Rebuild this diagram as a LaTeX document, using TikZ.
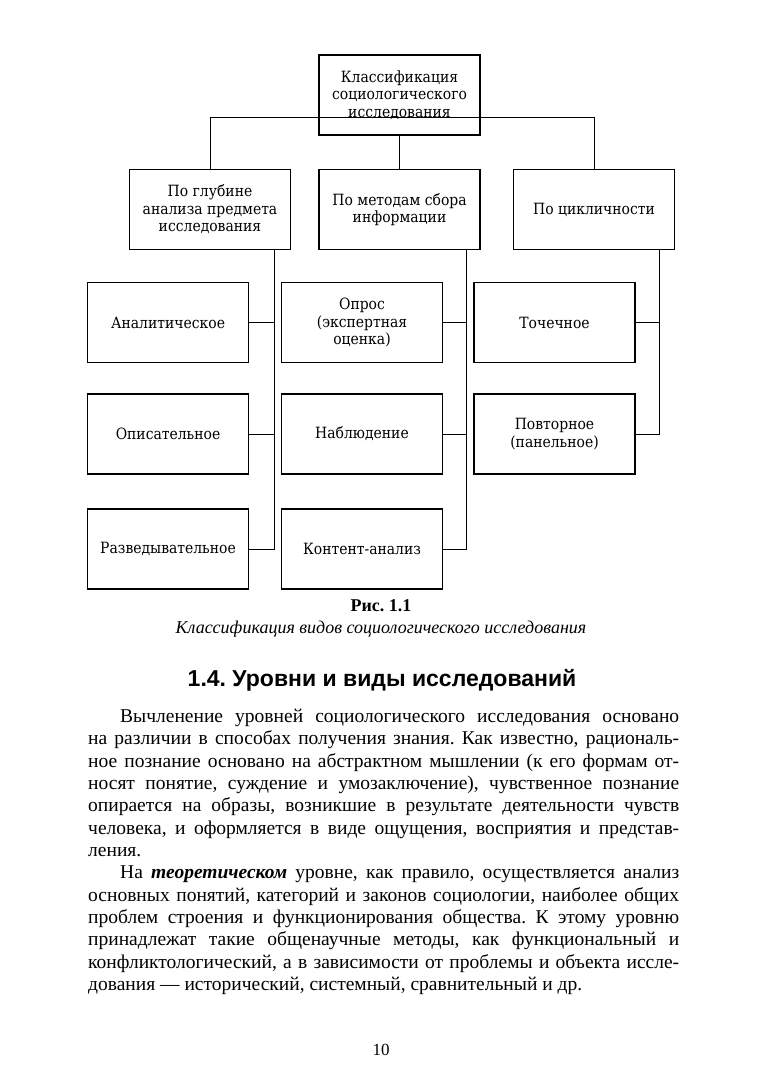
\documentclass[tikz,border=0pt]{standalone}
\usepackage{fontspec}
\setmainfont{Liberation Serif}
\newfontfamily\diagfont{DejaVu Serif Condensed}
\newfontfamily\headfont{Liberation Sans}
\usetikzlibrary{positioning}
\hyphenpenalty=10000
\exhyphenpenalty=10000
\frenchspacing

\tikzset{
  klass/.style={draw, line width=1.2pt, minimum width=161pt, minimum height=80pt,
    inner sep=2pt, align=center, font=\diagfont\fontsize{15.5}{17.5}\selectfont},
  svyaz/.style={line width=1pt},
}

\begin{document}
\begin{tikzpicture}[x=1pt, y=-1pt]
  \useasboundingbox (0,0) rectangle (763,1079);

  % verkh i tri osnovaniya
  \node[klass] (klassif) at (399.5, 95) {Классификация\\социологического\\исследования};
  \node[klass] (glubina) at (210, 209.5) {По глубине\\анализа предмета\\исследования};
  \node[klass] (metody) at (399.5, 209.5) {По методам сбора\\информации};
  \node[klass] (cikl) at (594, 209.5) {По цикличности};

  % vidy
  \node[klass] (analit) at (168, 322.5) {Аналитическое};
  \node[klass] (opis) at (168, 434) {Описательное};
  \node[klass] (razved) at (168, 549) {Разведывательное};
  \node[klass] (opros) at (362, 322.5) {Опрос\\(экспертная\\оценка)};
  \node[klass] (nabl) at (362, 434) {Наблюдение};
  \node[klass] (kontent) at (362, 549) {Контент-анализ};
  \node[klass] (tochech) at (554.5, 322.5) {Точечное};
  \node[klass] (povtor) at (554.5, 434) {Повторное\\(панельное)};

  % svyazi
  \coordinate (shina) at ([yshift=18pt]klassif.south);
  \draw[svyaz] (klassif) -- (metody);
  \draw[svyaz] (glubina.north) |- (shina) -| (cikl.north);
  \coordinate (sa) at ([xshift=-17pt]glubina.south east);
  \coordinate (sb) at ([xshift=-14pt]metody.south east);
  \coordinate (sc) at ([xshift=-16pt]cikl.south east);
  \draw[svyaz] (sa) |- (razved.east);
  \draw[svyaz] (analit.east) -- (analit.east -| sa);
  \draw[svyaz] (opis.east) -- (opis.east -| sa);
  \draw[svyaz] (sb) |- (kontent.east);
  \draw[svyaz] (opros.east) -- (opros.east -| sb);
  \draw[svyaz] (nabl.east) -- (nabl.east -| sb);
  \draw[svyaz] (sc) |- (povtor.east);
  \draw[svyaz] (tochech.east) -- (tochech.east -| sc);

  % podpis i tekst
  \node[anchor=base, font=\bfseries\fontsize{18}{21}\selectfont] (ris) at (381, 611.5) {Рис. 1.1};
  \node[anchor=base, font=\itshape\fontsize{18}{21}\selectfont] (podpis) at (381, 633.5) {Классификация видов социологического исследования};
  \node[anchor=base, font=\headfont\bfseries\fontsize{23}{27}\selectfont] (zagolovok) at (382, 686) {1.4. Уровни и виды исследований};

  \node[anchor=north west, inner sep=0, text width=591pt, align=justify,
    font=\fontsize{19.5}{22.33}\selectfont] (tekst) at (88, 706.7) {%
    \noindent\strut\hspace*{32pt}Вычленение уровней социологического исследования основано\linebreak
    на различии в способах получения знания. Как известно, рациональ-\linebreak
    ное познание основано на абстрактном мышлении (к его формам от-\linebreak
    носят понятие, суждение и умозаключение), чувственное познание\linebreak
    опирается на образы, возникшие в результате деятельности чувств\linebreak
    человека, и оформляется в виде ощущения, восприятия и представ-\linebreak
    ления.\par
    \noindent\hspace*{32pt}На \textbf{\textit{теоретическом}} уровне, как правило, осуществляется анализ\linebreak
    основных понятий, категорий и законов социологии, наиболее общих\linebreak
    проблем строения и функционирования общества. К~этому уровню\linebreak
    принадлежат такие общенаучные методы, как функциональный и\linebreak
    конфликтологический, а в зависимости от проблемы и объекта иссле-\linebreak
    дования~— исторический, системный, сравнительный и~др.\par};

  \node[anchor=base, font=\fontsize{17}{20}\selectfont] (nomer) at (381, 1055) {10};
\end{tikzpicture}
\end{document}
